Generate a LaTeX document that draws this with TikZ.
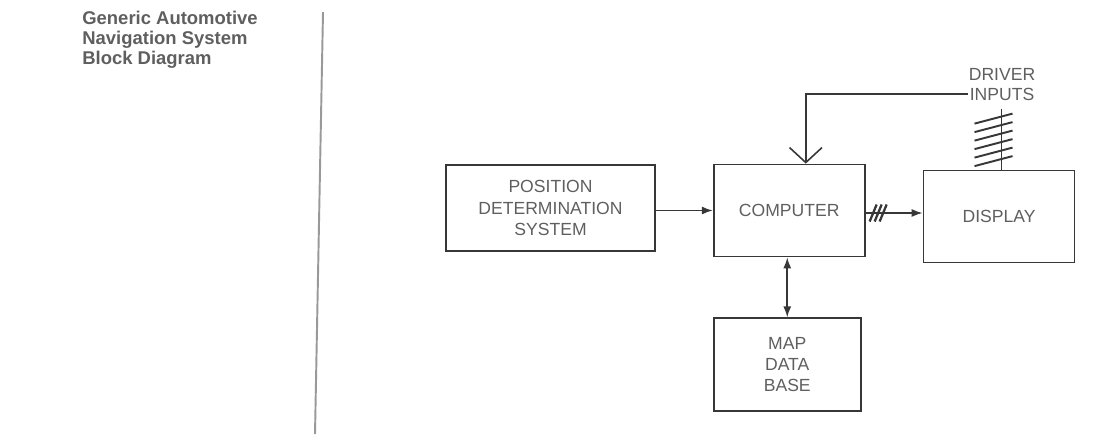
\documentclass[tikz,border=0pt]{standalone}
\usepackage{fontspec}
\setmainfont{Liberation Sans}
\usetikzlibrary{positioning, calc, arrows.meta}
\definecolor{ink}{RGB}{55,55,55}
\definecolor{txt}{RGB}{95,95,95}
\tikzset{
  blk/.style={draw=ink,line width=1pt,text=txt,align=center,
    font=\fontsize{10}{12}\selectfont,inner sep=2pt},
  arr/.style={-{Latex[length=2.2mm,width=1.6mm]},line width=0.9pt,draw=ink},
  both/.style={{Latex[length=2.2mm,width=1.6mm]}-{Latex[length=2.2mm,width=1.6mm]},
    line width=0.9pt,draw=ink},
  barb/.style={-{Straight Barb[length=3mm,width=6.5mm]},line width=0.9pt,draw=ink},
  wire/.style={line width=0.9pt,draw=ink},
  lbl/.style={text=txt,font=\fontsize{10}{12}\selectfont,inner sep=1pt},
}

\begin{document}
\begin{tikzpicture}
  \useasboundingbox (0,0) rectangle (22,8.68);
  % heading and rule
  \node[anchor=north west,text=txt,align=left,inner sep=0pt,
    font=\bfseries\fontsize{10.5}{11.4}\selectfont] (ttl) at (1.64,8.46)
    {Generic Automotive\\Navigation System\\Block Diagram};
  \draw[gray!80,line width=1.1pt] (6.46,8.44) -- (6.30,0);

  % blocks
  \node[blk,minimum width=4.18cm,minimum height=1.72cm] (pos) at (11.01,4.52)
    {POSITION\\DETERMINATION\\SYSTEM};
  \node[blk,minimum width=3.02cm,minimum height=1.84cm,right=1.14cm of pos,
    yshift=-0.05cm] (cmp) {COMPUTER};
  \node[blk,minimum width=3.02cm,minimum height=1.84cm,right=1.14cm of cmp,
    yshift=-0.12cm] (dsp) {DISPLAY};
  \node[blk,minimum width=2.94cm,minimum height=1.86cm,below=1.2cm of cmp,
    xshift=-0.04cm] (map) {MAP\\DATA\\BASE};

  % driver inputs
  \node[lbl] (drv) at (20.04,7.2) {DRIVER};
  \node[lbl,below=2pt of drv] (inp) {INPUTS};
  \coordinate (fb) at ($(cmp.north)+(0.33,0)$);
  \draw[barb] (inp.west) -| (fb);
  \coordinate (hub) at ($(dsp.north)+(0.05,1.22)$);
  \draw[wire] (hub) -- (hub |- dsp.north);
  \foreach \k in {0,...,5}
    \draw[wire,line width=1.1pt] ($(hub)+(-0.54,-0.3-0.17*\k)$) -- ++(0.76,0.2);

  % connectors
  \draw[arr] (pos.east |- cmp) -- (cmp.west);
  \coordinate (out) at ($(cmp.east)+(0,-0.05)$);
  \draw[arr] (out) -- (out -| dsp.west);
  \foreach \k in {0,1,2}
    \draw[wire,line width=1.3pt] ($(out)+(0.08+0.1*\k,-0.17)$) -- ++(0.14,0.34);
  \draw[both] (cmp.south -| map.north) -- (map);
\end{tikzpicture}
\end{document}
